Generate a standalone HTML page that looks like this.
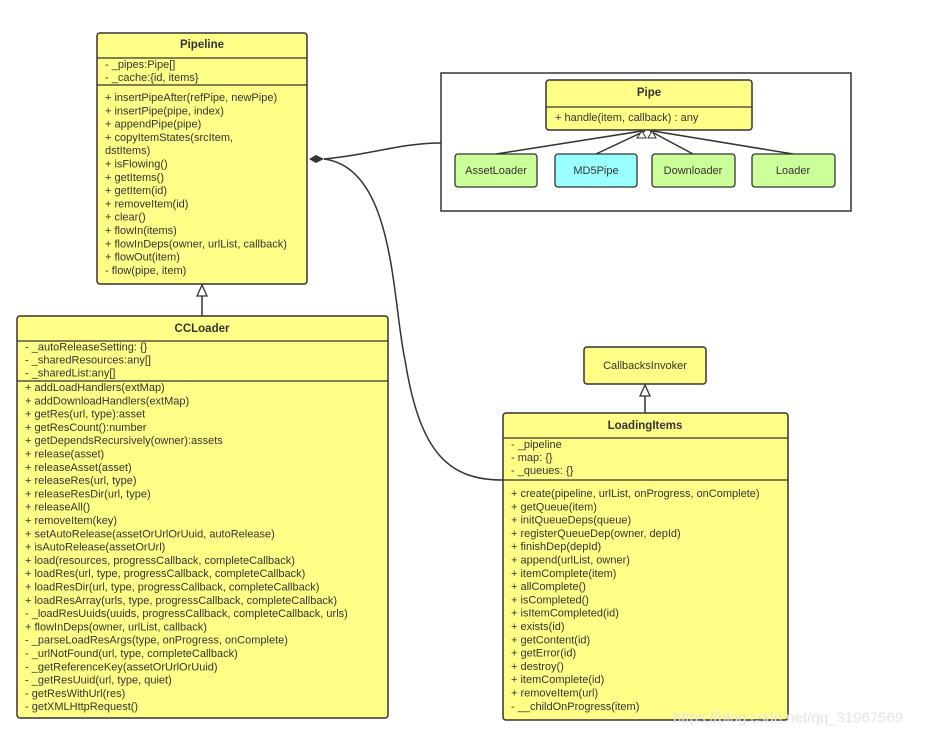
<!DOCTYPE html>
<html><head><meta charset="utf-8"><style>
html,body{margin:0;padding:0;background:#fff;}
svg{display:block;}
text{font-family:"Liberation Sans","DejaVu Sans",sans-serif;font-size:11px;fill:#333;dominant-baseline:central;}
.b{font-weight:bold;font-size:11.5px;}
</style></head><body>
<svg width="926" height="737" viewBox="0 0 926 737" xmlns="http://www.w3.org/2000/svg">
<!-- group -->
<rect x="441" y="73" width="410" height="138" fill="#fff" stroke="#333" stroke-width="1.5"/>
<g stroke="#333" stroke-width="1.5" fill="none">
<path d="M324,159 C370,155 400,143 441,143"/>
<path d="M324,159 C395,168 392,300 405,360 C420,455 450,480 503,480"/>
<line x1="202" y1="316" x2="202" y2="292"/>
<line x1="645" y1="413" x2="645" y2="395"/>
<line x1="496" y1="154" x2="642" y2="131"/>
<line x1="596" y1="154" x2="645" y2="131"/>
<line x1="693" y1="154" x2="650" y2="131"/>
<line x1="793" y1="154" x2="653" y2="131"/>
</g>
<polygon points="309,159 316,155 324,159 316,163" fill="#333"/>
<polygon points="202,285 197,296 207,296" fill="#fff" stroke="#333" stroke-width="1.3"/>
<polygon points="645,385 640,396 650,396" fill="#fff" stroke="#333" stroke-width="1.3"/>
<!-- Pipe -->
<rect x="546" y="80" width="206" height="50" rx="3" fill="#ffff88" stroke="#333" stroke-width="1.5"/>
<line x1="546" y1="107" x2="752" y2="107" stroke="#333" stroke-width="1.3"/>
<text class="b" x="649" y="93" text-anchor="middle">Pipe</text>
<text x="555" y="118">+ handle(item, callback) : any</text>
<polygon points="637,138 642,131 646,138" fill="#fff" stroke="#333"/>
<polygon points="648,138 652,131 656,138" fill="#fff" stroke="#333"/>
<rect x="455" y="154" width="82" height="33" rx="3" fill="#ccff99" stroke="#333" stroke-width="1.3"/>
<text x="496" y="171" text-anchor="middle">AssetLoader</text>
<rect x="555" y="154" width="82" height="33" rx="3" fill="#99ffff" stroke="#333" stroke-width="1.3"/>
<text x="596" y="171" text-anchor="middle">MD5Pipe</text>
<rect x="652" y="154" width="83" height="33" rx="3" fill="#ccff99" stroke="#333" stroke-width="1.3"/>
<text x="693" y="171" text-anchor="middle">Downloader</text>
<rect x="752" y="154" width="83" height="33" rx="3" fill="#ccff99" stroke="#333" stroke-width="1.3"/>
<text x="793" y="171" text-anchor="middle">Loader</text>
<!-- Pipeline -->
<rect x="97" y="33" width="210" height="251" rx="3" fill="#ffff88" stroke="#333" stroke-width="1.5"/>
<line x1="97" y1="58" x2="307" y2="58" stroke="#333" stroke-width="1.3"/>
<line x1="97" y1="85" x2="307" y2="85" stroke="#333" stroke-width="1.3"/>
<text class="b" x="202" y="45" text-anchor="middle">Pipeline</text>
<g>
<text x="105" y="65">- _pipes:Pipe[]</text>
<text x="105" y="78">- _cache:{id, items}</text>
<text x="105" y="98">+ insertPipeAfter(refPipe, newPipe)</text>
<text x="105" y="111.3">+ insertPipe(pipe, index)</text>
<text x="105" y="124.6">+ appendPipe(pipe)</text>
<text x="105" y="137.9">+ copyItemStates(srcItem,</text>
<text x="105" y="151.2">dstItems)</text>
<text x="105" y="164.5">+ isFlowing()</text>
<text x="105" y="177.8">+ getItems()</text>
<text x="105" y="191.1">+ getItem(id)</text>
<text x="105" y="204.4">+ removeItem(id)</text>
<text x="105" y="217.7">+ clear()</text>
<text x="105" y="231">+ flowIn(items)</text>
<text x="105" y="244.3">+ flowInDeps(owner, urlList, callback)</text>
<text x="105" y="257.6">+ flowOut(item)</text>
<text x="105" y="270.9">- flow(pipe, item)</text>
</g>
<!-- CCLoader -->
<rect x="17" y="316" width="371" height="402" rx="3" fill="#ffff88" stroke="#333" stroke-width="1.5"/>
<line x1="17" y1="341" x2="388" y2="341" stroke="#333" stroke-width="1.3"/>
<line x1="17" y1="381" x2="388" y2="381" stroke="#333" stroke-width="1.3"/>
<text class="b" x="202" y="329" text-anchor="middle">CCLoader</text>
<g>
<text x="25" y="347.5">- _autoReleaseSetting: {}</text>
<text x="25" y="360.5">- _sharedResources:any[]</text>
<text x="25" y="373.5">- _sharedList:any[]</text>
<text x="25" y="388">+ addLoadHandlers(extMap)</text>
<text x="25" y="401.3">+ addDownloadHandlers(extMap)</text>
<text x="25" y="414.6">+ getRes(url, type):asset</text>
<text x="25" y="427.9">+ getResCount():number</text>
<text x="25" y="441.2">+ getDependsRecursively(owner):assets</text>
<text x="25" y="454.5">+ release(asset)</text>
<text x="25" y="467.8">+ releaseAsset(asset)</text>
<text x="25" y="481.1">+ releaseRes(url, type)</text>
<text x="25" y="494.4">+ releaseResDir(url, type)</text>
<text x="25" y="507.7">+ releaseAll()</text>
<text x="25" y="521">+ removeItem(key)</text>
<text x="25" y="534.3">+ setAutoRelease(assetOrUrlOrUuid, autoRelease)</text>
<text x="25" y="547.6">+ isAutoRelease(assetOrUrl)</text>
<text x="25" y="560.9">+ load(resources, progressCallback, completeCallback)</text>
<text x="25" y="574.2">+ loadRes(url, type, progressCallback, completeCallback)</text>
<text x="25" y="587.5">+ loadResDir(url, type, progressCallback, completeCallback)</text>
<text x="25" y="600.8">+ loadResArray(urls, type, progressCallback, completeCallback)</text>
<text x="25" y="614.1">- _loadResUuids(uuids, progressCallback, completeCallback, urls)</text>
<text x="25" y="627.4">+ flowInDeps(owner, urlList, callback)</text>
<text x="25" y="640.7">- _parseLoadResArgs(type, onProgress, onComplete)</text>
<text x="25" y="654">- _urlNotFound(url, type, completeCallback)</text>
<text x="25" y="667.3">- _getReferenceKey(assetOrUrlOrUuid)</text>
<text x="25" y="680.6">- _getResUuid(url, type, quiet)</text>
<text x="25" y="693.9">- getResWithUrl(res)</text>
<text x="25" y="707.2">- getXMLHttpRequest()</text>
</g>
<!-- CallbacksInvoker -->
<rect x="584" y="347" width="122" height="37" rx="3" fill="#ffff88" stroke="#333" stroke-width="1.5"/>
<text x="645" y="366" text-anchor="middle">CallbacksInvoker</text>
<!-- LoadingItems -->
<rect x="503" y="413" width="285" height="307" rx="3" fill="#ffff88" stroke="#333" stroke-width="1.5"/>
<line x1="503" y1="438" x2="788" y2="438" stroke="#333" stroke-width="1.3"/>
<line x1="503" y1="480" x2="788" y2="480" stroke="#333" stroke-width="1.3"/>
<text class="b" x="645" y="426" text-anchor="middle">LoadingItems</text>
<g>
<text x="511" y="445">- _pipeline</text>
<text x="511" y="458">- map: {}</text>
<text x="511" y="471">- _queues: {}</text>
<text x="511" y="494">+ create(pipeline, urlList, onProgress, onComplete)</text>
<text x="511" y="507.3">+ getQueue(item)</text>
<text x="511" y="520.6">+ initQueueDeps(queue)</text>
<text x="511" y="533.9">+ registerQueueDep(owner, depId)</text>
<text x="511" y="547.2">+ finishDep(depId)</text>
<text x="511" y="560.5">+ append(urlList, owner)</text>
<text x="511" y="573.8">+ itemComplete(item)</text>
<text x="511" y="587.1">+ allComplete()</text>
<text x="511" y="600.4">+ isCompleted()</text>
<text x="511" y="613.7">+ isItemCompleted(id)</text>
<text x="511" y="627">+ exists(id)</text>
<text x="511" y="640.3">+ getContent(id)</text>
<text x="511" y="653.6">+ getError(id)</text>
<text x="511" y="666.9">+ destroy()</text>
<text x="511" y="680.2">+ itemComplete(id)</text>
<text x="511" y="693.5">+ removeItem(url)</text>
<text x="511" y="706.8">- __childOnProgress(item)</text>
</g>
<text x="673" y="718" style="font-size:15px;fill:#e4e4e4">https://blog.csdn.net/qq_31967569</text>
</svg>
</body></html>
